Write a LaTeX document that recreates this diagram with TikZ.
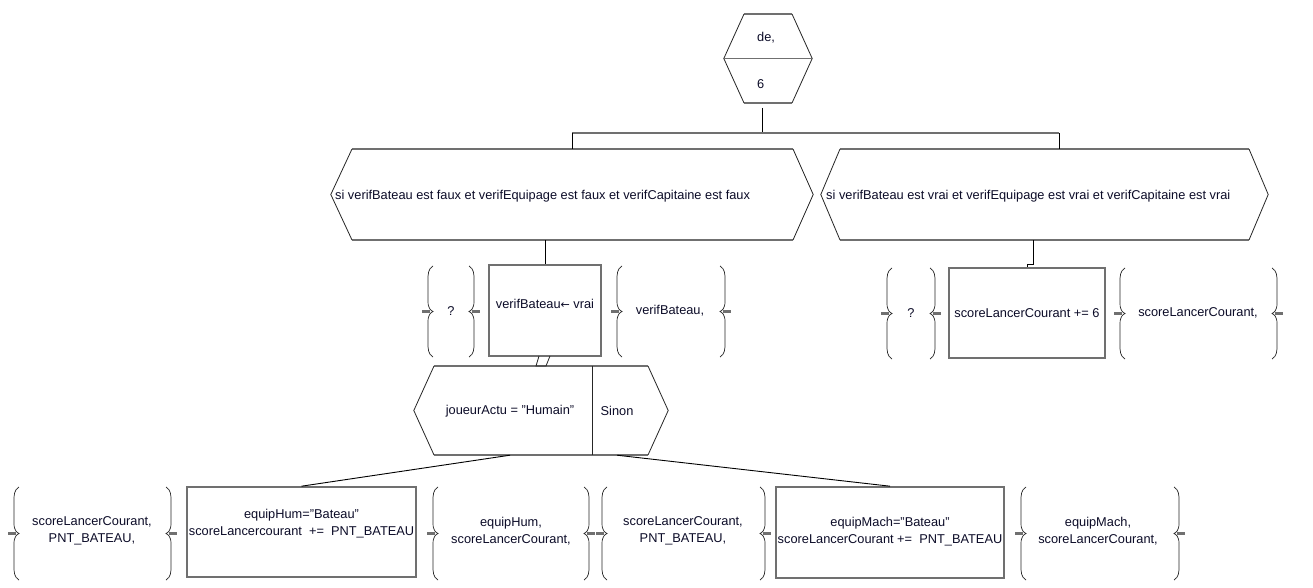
\documentclass[tikz,border=0pt]{standalone}
\usepackage{fontspec}
\setmainfont{Liberation Sans}
\newfontfamily\arrowfont{DejaVu Sans}
\definecolor{edge}{RGB}{112,112,112}
\definecolor{txt}{RGB}{12,12,40}
\newcommand\hexa[7]{%
  \node[minimum width={(#5)-(#2)}, minimum height={(#7)-(#6)}, inner sep=0pt] (#1) at ({((#2)+(#5))/2},{((#6)+(#7))/2}) {};
  \draw[gedge] (#3,#6) -- (#4,#6) (#3,#7) -- (#4,#7);
  \draw[sedge] (#3,#6) -- (#1.west) -- (#3,#7) (#4,#6) -- (#1.east) -- (#4,#7);
}
\newcommand\mydelL[3]{%
  \draw[sedge,line width=0.7pt] ({#1},#2) .. controls ({#1-5},{#2+3}) and ({#1-5},{#2+8}) .. ({#1-5},{#2+14})
    -- ({#1-5},{(#2+#3)/2-10}) .. controls ({#1-5},{(#2+#3)/2-3}) and ({#1-2},{(#2+#3)/2-1}) .. ({#1},{(#2+#3)/2})
    .. controls ({#1-2},{(#2+#3)/2+1}) and ({#1-5},{(#2+#3)/2+3}) .. ({#1-5},{(#2+#3)/2+10})
    -- ({#1-5},{#3-14}) .. controls ({#1-5},{#3-8}) and ({#1-5},{#3-3}) .. ({#1},#3);
  \draw[tipline] ({#1-11},{(#2+#3)/2}) -- ({#1-3},{(#2+#3)/2});
}
\newcommand\mydelR[3]{%
  \draw[sedge,line width=0.7pt] ({#1},#2) .. controls ({#1+5},{#2+3}) and ({#1+5},{#2+8}) .. ({#1+5},{#2+14})
    -- ({#1+5},{(#2+#3)/2-10}) .. controls ({#1+5},{(#2+#3)/2-3}) and ({#1+2},{(#2+#3)/2-1}) .. ({#1},{(#2+#3)/2})
    .. controls ({#1+2},{(#2+#3)/2+1}) and ({#1+5},{(#2+#3)/2+3}) .. ({#1+5},{(#2+#3)/2+10})
    -- ({#1+5},{#3-14}) .. controls ({#1+5},{#3-8}) and ({#1+5},{#3-3}) .. ({#1},#3);
  \draw[tipline] ({#1+3},{(#2+#3)/2}) -- ({#1+11},{(#2+#3)/2});
}
\begin{document}
\begin{tikzpicture}[x=1pt,y=-1pt,
  every node/.style={font=\fontsize{12.8}{17}\selectfont, text=txt, inner sep=0pt, align=center},
  gedge/.style={draw=edge, line width=1.6pt},
  sedge/.style={draw=black!85, line width=0.8pt},
  conn/.style={draw=black, line width=0.9pt},
  box/.style={draw=edge, line width=1.6pt, fill=none},
  tipline/.style={draw=edge, line width=2.4pt}]
\useasboundingbox[fill=white] (0,0) rectangle (1313,588);

% top hexagon
\hexa{top}{724}{744}{792}{812}{14}{103}
\draw[gedge] (top.west) -- (top.east);
\node[anchor=west] (de) at (757,38) {de,};
\node[anchor=west] (six) at (757,84) {6};

% branch bar
\coordinate (sp) at (762,133);
\coordinate (rj) at (1059,133);
\hexa{hexL}{331}{352}{793}{813}{149}{240}
\hexa{hexR}{821}{840}{1249}{1268}{149}{240}
\draw[conn] (sp |- 0,108) -- (sp);
\draw[gedge] (hexL.north |- sp) -- (rj);
\draw[conn] (hexL.north |- sp) -- (hexL.north);
\draw[conn] (rj) -- (rj |- hexR.north);
\node[anchor=west] (condL) at (335,196) {si verifBateau est faux et verifEquipage est faux et verifCapitaine est faux};
\node[anchor=west] (condR) at (826,196) {si verifBateau est vrai et verifEquipage est vrai et verifCapitaine est vrai};

% left branch: assignment
\node[box, minimum width=112pt, minimum height=91pt] (rA) at (545,310.5) {};
\node (tA) at (545,304) {verifBateau{\arrowfont\fontsize{11}{13}\selectfont ←} vrai};
\draw[conn] (hexL.south -| rA.north) -- (rA.north);
\mydelL{433}{266}{357}
\mydelR{469}{266}{357}
\node (qA) at (451,311) {?};
\mydelL{622}{266}{357}
\mydelR{720}{266}{357}
\node (oA) at (670,311) {verifBateau,};

% right branch
\node[box, minimum width=156pt, minimum height=90pt] (rB) at (1027,313) {};
\node (tB) at (1027,313) {scoreLancerCourant += 6};
\coordinate (cr1) at (1033,240);
\coordinate (cr2) at (1033,264);
\draw[conn] (cr1) -- (cr2) -- (cr2 -| rB.north) -- (rB.north);
\mydelL{892}{268}{359}
\mydelR{930}{268}{359}
\node (qB) at (911,313) {?};
\mydelL{1125}{268}{359}
\mydelR{1272}{268}{359}
\node (oB) at (1198,313) {scoreLancerCourant,};

% conditional
\hexa{hexC}{414}{434}{648}{668}{366}{455}
\draw[sedge] (539,356) -- (536,366) -- (546,366) -- (550,356);
\draw[sedge] (hexC.north -| 592,0) -- (hexC.south -| 592,0);
\node (jt) at (510,411) {joueurActu = "Humain"};
\node (sn) at (617,411) {Sinon};

% bottom row
\node[box, minimum width=229pt, minimum height=90pt] (rH) at (301.5,532) {};
\node (tH) at (301.5,524) {equipHum="Bateau"\\scoreLancercourant~~+=~~PNT\_BATEAU};
\node[box, minimum width=228pt, minimum height=91pt] (rM) at (890,532.5) {};
\node (tM) at (890,532) {equipMach="Bateau"\\scoreLancerCourant +=~~PNT\_BATEAU};
\draw[conn] (jt |- hexC.south) -- (rH.north);
\draw[conn] (sn |- hexC.south) -- (rM.north);

\mydelL{19}{487}{580}
\mydelR{166}{487}{580}
\node (g1) at (92,531) {scoreLancerCourant,\\PNT\_BATEAU,};
\mydelL{438}{487}{580}
\mydelR{584}{487}{580}
\node (g2) at (511,531) {equipHum,\\scoreLancerCourant,};
\mydelL{607}{487}{580}
\mydelR{760}{487}{580}
\node (g3) at (683,531) {scoreLancerCourant,\\PNT\_BATEAU,};
\mydelL{1026}{487}{580}
\mydelR{1174}{487}{580}
\node (g4) at (1098,531) {equipMach,\\scoreLancerCourant,};
\end{tikzpicture}
\end{document}
